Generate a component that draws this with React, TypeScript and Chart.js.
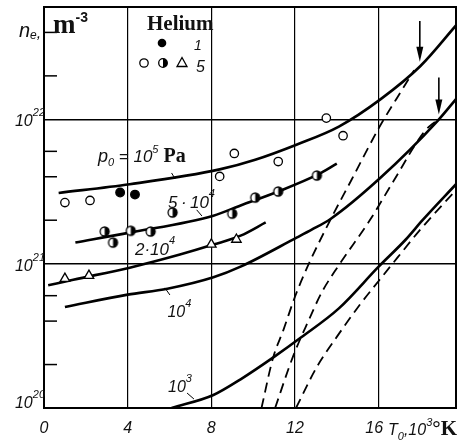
import React, { useEffect, useRef } from 'react';
import { Chart, registerables } from 'chart.js';

Chart.register(...registerables);

// ---------- axes ----------
const xTicks = [0, 4, 8, 12, 16];
const xTickLabels = ['0', '4', '8', '12', '16  '];
const yMajorTicks = [1e20, 1e21, 1e22];
const yTickBase = ['10', '10', '10'];
const yTickExp = ['20', '21', '22'];
const yMinorTicks = [2e20, 4e20, 6e20, 2e21, 4e21, 6e21, 2e22, 4e22];

// ---------- computed curves (T0 in 10^3 K, ne in m^-3) ----------
const t1e5 = [0.7, 4.1, 8.4, 10.1, 12.1, 14.1, 16.1, 18.0, 19.7];
const n1e5 = [3.09e21, 3.55e21, 4.5e21, 5.25e21, 6.7e21, 8.91e21, 1.38e22, 2.34e22, 4.47e22];

const t5e4 = [1.5, 4.1, 8.1, 9.4, 11.2, 13.1, 14.0];
const n5e4 = [1.4e21, 1.64e21, 2.15e21, 2.53e21, 3.16e21, 4.15e21, 4.94e21];

const t2e4 = [0.2, 1.4, 4.1, 6.5, 8.1, 9.4, 10.6];
const n2e4 = [7.08e20, 7.74e20, 9.38e20, 1.156e21, 1.355e21, 1.563e21, 1.93e21];

const t1e4 = [1.0, 4.0, 5.9, 8.1, 9.4, 12.1, 12.8, 13.7, 16.1, 18.8, 19.7];
const n1e4 = [5.01e20, 6.1e20, 6.7e20, 8.04e20, 9.53e20, 1.52e21, 1.72e21, 2.04e21, 3.95e21, 9.68e21, 1.38e22];

const t1e3 = [6.1, 8.1, 9.4, 11.0, 12.3, 14.1, 16.0, 17.3, 18.1, 19.7];
const n1e3 = [1.0e20, 1.23e20, 1.58e20, 2.26e20, 3.09e20, 4.9e20, 9.53e20, 1.47e21, 2.0e21, 3.55e21];

// ---------- dashed curves ----------
const tDash1 = [10.4, 10.95, 11.45, 12.0, 12.6, 13.7, 14.7, 16.05, 17.1, 17.7];
const nDash1 = [1.0e20, 2.22e20, 3.48e20, 5.9e20, 9.53e20, 2.02e21, 3.8e21, 8.91e21, 1.585e22, 2.19e22];

const tDash2 = [11.05, 11.9, 12.6, 13.3, 14.05, 15.6, 16.7, 18.2, 18.75];
const nDash2 = [1.0e20, 2.26e20, 3.89e20, 6.4e20, 9.53e20, 2.02e21, 3.71e21, 8.26e21, 9.77e21];

const tDash3 = [12.05, 13.05, 14.0, 15.1, 16.05, 16.9, 17.9, 19.7];
const nDash3 = [1.0e20, 1.93e20, 3.11e20, 5.19e20, 7.74e20, 1.1e21, 1.66e21, 3.24e21];

// ---------- experimental points ----------
const tFilled = [3.64, 4.35];
const nFilled = [3.11e21, 3.01e21];

const tOpen = [1.0, 2.2, 8.4, 9.1, 11.2, 13.5, 14.3];
const nOpen = [2.65e21, 2.74e21, 4.02e21, 5.8e21, 5.1e21, 1.02e22, 7.7e21];

const tHalf = [2.9, 3.3, 4.15, 5.1, 6.15, 9.0, 10.1, 11.2, 13.05];
const nHalf = [1.67e21, 1.4e21, 1.69e21, 1.67e21, 2.26e21, 2.22e21, 2.87e21, 3.16e21, 4.08e21];

const tTri = [1.0, 2.15, 8.0, 9.2];
const nTri = [7.87e20, 8.26e20, 1.36e21, 1.47e21];

// ---------- helpers ----------
const IT = (s: number) => `italic ${s}px 'Liberation Sans', Arial, sans-serif`;
const BS = (s: number) => `bold ${s}px 'Liberation Serif', 'Times New Roman', serif`;
const BSans = (s: number) => `bold ${s}px 'Liberation Sans', Arial, sans-serif`;

type Seg = [string, string, number];

const curveLabels: { t: number; n: number; segs: Seg[] }[] = [
  { t: 2.58, n: 5.07e21, segs: [['p', IT(18), 0], ['0', IT(11), 4], [' = 10', IT(17), 0], ['5', IT(11), -9], [' Pa', BS(20), 0]] },
  { t: 5.93, n: 2.43e21, segs: [['5\u2009·\u200910', IT(17), 0], ['4', IT(11), -11]] },
  { t: 4.35, n: 1.148e21, segs: [['2·10', IT(17), 0], ['4', IT(11), -11]] },
  { t: 5.9, n: 4.27e20, segs: [['10', IT(16), 0], ['4', IT(11), -10]] },
  { t: 5.93, n: 1.29e20, segs: [['10', IT(16), 0], ['3', IT(11), -10]] },
];

const leaders: [number, number, number, number][] = [
  [6.1, 4.25e21, 6.27, 3.87e21],
  [7.3, 2.36e21, 7.55, 2.14e21],
  [5.78, 6.8e20, 6.02, 6.07e20],
  [6.84, 1.27e20, 7.17, 1.154e20],
];

const arrows: [number, number, number][] = [
  [17.97, 4.79e22, 2.51e22],
  [18.88, 1.95e22, 1.08e22],
];

function line(ctx: CanvasRenderingContext2D, x1: number, y1: number, x2: number, y2: number) {
  ctx.beginPath();
  ctx.moveTo(x1, y1);
  ctx.lineTo(x2, y2);
  ctx.stroke();
}

function rich(ctx: CanvasRenderingContext2D, x: number, y: number, segs: Seg[]) {
  let cx = x;
  for (const [t, f, dy] of segs) {
    ctx.font = f;
    ctx.fillText(t, cx, y + dy);
    cx += ctx.measureText(t).width;
  }
  return cx - x;
}

function richWidth(ctx: CanvasRenderingContext2D, segs: Seg[]) {
  let w = 0;
  for (const [t, f] of segs) {
    ctx.font = f;
    w += ctx.measureText(t).width;
  }
  return w;
}

function drawHalf(g: CanvasRenderingContext2D, cx: number, cy: number, r: number) {
  g.save();
  g.fillStyle = '#fff';
  g.beginPath();
  g.arc(cx, cy, r, 0, Math.PI * 2);
  g.fill();
  g.fillStyle = '#000';
  g.beginPath();
  g.arc(cx, cy, r, -Math.PI / 2, Math.PI / 2);
  g.closePath();
  g.fill();
  g.lineWidth = 1.3;
  g.strokeStyle = '#000';
  g.beginPath();
  g.arc(cx, cy, r, 0, Math.PI * 2);
  g.stroke();
  g.restore();
}

function makeHalf(r: number) {
  const c = document.createElement('canvas');
  const s = Math.ceil(2 * r + 4);
  c.width = s;
  c.height = s;
  const g = c.getContext('2d')!;
  drawHalf(g, s / 2, s / 2, r);
  return c;
}

const pts = (ts: number[], ns: number[]) => ts.map((t, i) => ({ x: t, y: ns[i] }));

const annotPlugin = {
  id: 'annot',
  afterDraw(chart: any) {
    const { ctx, chartArea: a, scales } = chart;
    const xs = scales.x;
    const ys = scales.y;
    const px = (t: number) => xs.getPixelForValue(t);
    const py = (n: number) => ys.getPixelForValue(n);
    ctx.save();
    ctx.strokeStyle = '#000';
    ctx.fillStyle = '#000';
    // frame
    ctx.lineWidth = 2;
    ctx.strokeRect(a.left, a.top, a.right - a.left, a.bottom - a.top);
    // minor ticks (inward)
    ctx.lineWidth = 1.5;
    for (const v of yMinorTicks) {
      const yy = py(v);
      line(ctx, a.left, yy, a.left + 13, yy);
    }
    // leader lines
    ctx.lineWidth = 1;
    for (const [t1, n1, t2, n2] of leaders) line(ctx, px(t1), py(n1), px(t2), py(n2));
    // arrows
    for (const [t, n1, n2] of arrows) {
      const x = px(t);
      const y1 = py(n1);
      const y2 = py(n2);
      ctx.lineWidth = 1.6;
      line(ctx, x, y1, x, y2 - 10);
      ctx.beginPath();
      ctx.moveTo(x - 3.5, y2 - 15);
      ctx.lineTo(x + 3.5, y2 - 15);
      ctx.lineTo(x, y2);
      ctx.closePath();
      ctx.fill();
    }
    ctx.textAlign = 'left';
    ctx.textBaseline = 'alphabetic';
    ctx.fillStyle = '#111';
    // y tick labels (10 with superscript exponent)
    yMajorTicks.forEach((v, i) => {
      const yy = py(v);
      const base = i === 0 ? yy : yy + 7;
      const segs: Seg[] = [[yTickBase[i], IT(16), 0], [yTickExp[i], IT(11), -10]];
      const w = richWidth(ctx, segs);
      rich(ctx, a.left + 1 - w, base, segs);
    });
    // curve labels
    for (const l of curveLabels) rich(ctx, px(l.t), py(l.n), l.segs);
    // axis title (y)
    rich(ctx, a.left - 25, a.top + 30, [['n', IT(20), 0], ['e', IT(12), 2], [',', IT(16), 1]]);
    rich(ctx, a.left + 9, a.top + 26, [['m', BS(27), 0], ['-3', BSans(14), -11]]);
    // axis title (x)
    rich(ctx, a.right - 68, a.bottom + 27, [['T', IT(16), 0], ['0', IT(11), 5], [',10', IT(16), 0], ['3', IT(11), -9], ['°K', BS(21), 0]]);
    // legend
    ctx.font = BS(21);
    ctx.fillText('Helium', a.left + 103, a.top + 23);
    ctx.fillStyle = '#000';
    ctx.beginPath();
    ctx.arc(a.left + 118, a.top + 36, 4.3, 0, Math.PI * 2);
    ctx.fill();
    ctx.fillStyle = '#111';
    ctx.font = IT(14);
    ctx.fillText('1', a.left + 150, a.top + 43);
    ctx.lineWidth = 1.3;
    ctx.fillStyle = '#fff';
    ctx.beginPath();
    ctx.arc(a.left + 100, a.top + 56, 4.2, 0, Math.PI * 2);
    ctx.fill();
    ctx.stroke();
    drawHalf(ctx, a.left + 119, a.top + 56, 4.3);
    const tx = a.left + 138;
    const ty = a.top + 56;
    ctx.fillStyle = '#fff';
    ctx.beginPath();
    ctx.moveTo(tx, ty - 5.5);
    ctx.lineTo(tx + 5, ty + 3.5);
    ctx.lineTo(tx - 5, ty + 3.5);
    ctx.closePath();
    ctx.fill();
    ctx.stroke();
    ctx.fillStyle = '#111';
    ctx.font = IT(16);
    ctx.fillText('5', a.left + 152, a.top + 65);
    ctx.restore();
  },
};

export default function App() {
  const ref = useRef<HTMLCanvasElement>(null);
  useEffect(() => {
    const canvas = ref.current!;
    const half = makeHalf(4.5);
    const solid = (data: any, label: string) => ({
      label,
      data,
      borderColor: '#000',
      borderWidth: 2.6,
      pointRadius: 0,
      fill: false,
      cubicInterpolationMode: 'monotone' as const,
      order: 2,
    });
    const dashed = (data: any, label: string) => ({
      label,
      data,
      borderColor: '#000',
      borderWidth: 1.8,
      borderDash: [10, 6],
      pointRadius: 0,
      fill: false,
      cubicInterpolationMode: 'monotone' as const,
      order: 2,
    });
    const marks = (data: any, label: string, style: any, bg: string, r: number) => ({
      label,
      data,
      showLine: false,
      pointStyle: style,
      pointRadius: r,
      pointBackgroundColor: bg,
      pointBorderColor: '#000',
      pointBorderWidth: 1.3,
      order: 0,
    });
    const chart = new Chart(canvas, {
      type: 'line',
      data: {
        datasets: [
          marks(pts(tFilled, nFilled), '1', 'circle', '#000', 4.3),
          marks(pts(tOpen, nOpen), '5 (open)', 'circle', '#fff', 4.2),
          marks(pts(tHalf, nHalf), '5 (half)', half, '#fff', 4.5),
          marks(pts(tTri, nTri), '5 (triangle)', 'triangle', '#fff', 5.5),
          solid(pts(t1e5, n1e5), '1e5 Pa'),
          solid(pts(t5e4, n5e4), '5e4 Pa'),
          solid(pts(t2e4, n2e4), '2e4 Pa'),
          solid(pts(t1e4, n1e4), '1e4 Pa'),
          solid(pts(t1e3, n1e3), '1e3 Pa'),
          dashed(pts(tDash1, nDash1), 'dashed 1'),
          dashed(pts(tDash2, nDash2), 'dashed 2'),
          dashed(pts(tDash3, nDash3), 'dashed 3'),
        ] as any,
      },
      options: {
        responsive: false,
        animation: false,
        devicePixelRatio: 1,
        events: [],
        layout: { padding: { top: 7, right: 8, left: 0, bottom: 0 } },
        plugins: { legend: { display: false }, tooltip: { enabled: false } },
        scales: {
          x: {
            type: 'linear',
            min: 0,
            max: 19.7,
            afterBuildTicks: (s: any) => {
              s.ticks = xTicks.map((v) => ({ value: v }));
            },
            afterFit: (s: any) => {
              s.height = 37;
              s.paddingLeft = 0;
              s.paddingRight = 0;
            },
            ticks: {
              autoSkip: false,
              maxRotation: 0,
              padding: 11,
              color: '#111',
              font: { family: "'Liberation Sans', Arial, sans-serif", size: 16, style: 'italic' },
              callback: (_v: any, i: number) => xTickLabels[i],
            },
            grid: {
              drawTicks: false,
              color: (c: any) => (c.index === 0 ? 'rgba(0,0,0,0)' : '#000'),
              lineWidth: 1.2,
            },
            border: { display: false },
          },
          y: {
            type: 'logarithmic',
            min: 1e20,
            max: 6e22,
            afterBuildTicks: (s: any) => {
              s.ticks = yMajorTicks.map((v) => ({ value: v }));
            },
            afterFit: (s: any) => {
              s.width = 44;
              s.paddingTop = 0;
              s.paddingBottom = 0;
            },
            ticks: { display: false },
            grid: {
              drawTicks: false,
              color: (c: any) => (c.index === 0 ? 'rgba(0,0,0,0)' : '#000'),
              lineWidth: 1.4,
            },
            border: { display: false },
          },
        },
      } as any,
      plugins: [annotPlugin],
    });
    return () => chart.destroy();
  }, []);
  return (
    <div style={{ position: 'absolute', left: 0, top: 0, width: 464, height: 445, background: '#fff' }}>
      <canvas ref={ref} width={464} height={445} style={{ display: 'block', width: 464, height: 445 }} />
    </div>
  );
}
